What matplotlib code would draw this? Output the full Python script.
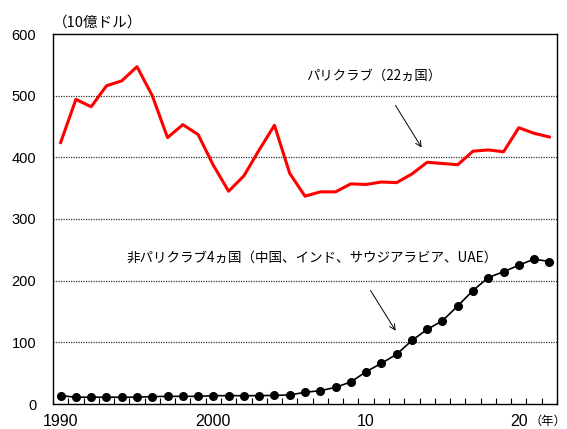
import matplotlib
matplotlib.use("Agg")
import matplotlib.pyplot as plt
import numpy as np

plt.rcParams['font.family'] = ['Liberation Sans', 'Noto Sans CJK JP', 'DejaVu Sans']

years = list(range(1990, 2023))
paris_club = [424, 494, 482, 516, 524, 547, 500, 432, 453, 437, 387, 345, 370, 412, 452,
              374, 337, 344, 344, 357, 356, 360, 359, 373, 392, 390, 388, 410, 412, 409,
              448, 439, 433]
non_paris = [13.5, 11, 11, 11, 11, 11, 12, 12.4, 12.4, 12.4, 13.5, 13.5, 13.5, 13.5, 14,
             14.6, 19, 21.6, 27, 35.7, 52.4, 66, 80.6, 103, 121, 135, 159, 184, 205, 214.5,
             225, 235, 231]
yticks = [0, 100, 200, 300, 400, 500, 600]
xtick_pos = [1990, 2000, 2010, 2020]
xtick_labels = ['1990', '2000', '10', '20']

fig = plt.figure(figsize=(5.67, 4.29), dpi=100)
ax = fig.add_axes([53/567, 25/429, 504/567, 370/429])

ax.plot(years, paris_club, color='#ff0000', lw=2.2, zorder=3)
ax.plot(years, non_paris, color='black', lw=1.2, marker='o', ms=5.5, zorder=4)

ax.set_xlim(1989.5, 2022.5)
ax.set_ylim(0, 600)
ax.set_yticks(yticks)
ax.set_yticklabels([str(v) for v in yticks], fontsize=10.5)
ax.tick_params(axis='y', length=0, pad=12)
for v in yticks[1:-1]:
    ax.axhline(v, color='#333333', lw=0.9, ls=(0, (1, 1)), zorder=1)

ax.set_xticks(xtick_pos)
ax.set_xticklabels(xtick_labels, fontsize=11.5)
ax.tick_params(axis='x', which='major', length=0, pad=7)
ax.set_xticks(np.arange(1989.5, 2022.6, 1.0), minor=True)
ax.tick_params(axis='x', which='minor', direction='in', length=4, width=0.8)

for s in ax.spines.values():
    s.set_linewidth(1.0)
    s.set_color('black')

fig.text(566.5/567, 1 - 421/429, '（年）', fontsize=8.8, va='center', ha='right',
         family=['Noto Sans CJK JP'])
fig.text(53/567, 1 - 23/429, '（10億ドル）', fontsize=10.5, va='center', ha='left',
         family=['Noto Sans CJK JP', 'Liberation Sans'])

ax.annotate('', xy=(2013.73, 412), xytext=(2011.83, 488),
            arrowprops=dict(arrowstyle='->', color='black', lw=0.7))
ax.text(2006.1, 532, 'パリクラブ（22ヵ国）', fontsize=9.6, va='center', ha='left',
        family=['Noto Sans CJK JP'])
ax.annotate('', xy=(2012.03, 115), xytext=(2010.19, 188),
            arrowprops=dict(arrowstyle='->', color='black', lw=0.7))
ax.text(1994.3, 237, '非パリクラブ4ヵ国（中国、インド、サウジアラビア、UAE）', fontsize=9.75,
        va='center', ha='left', family=['Noto Sans CJK JP'])

fig.savefig('out.png', dpi=100)
